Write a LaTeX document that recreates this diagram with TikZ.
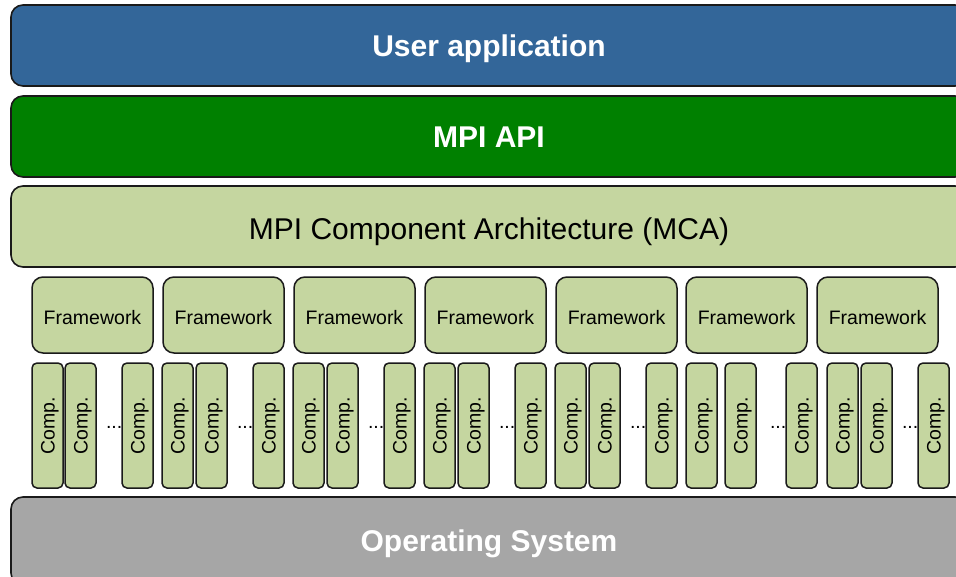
\documentclass[tikz,border=0pt]{standalone}
\usepackage{fontspec}
\setmainfont{Liberation Sans}
\definecolor{appblue}{HTML}{336699}
\definecolor{apigreen}{HTML}{008000}
\definecolor{mcagreen}{HTML}{C5D6A0}
\definecolor{osgray}{HTML}{A6A6A6}
\definecolor{edgeline}{HTML}{1A1A1A}
\begin{document}
\begin{tikzpicture}[x=1pt,y=-1pt,
  layer/.style={draw=edgeline,line width=1.6pt,rounded corners=12pt,
    minimum width=956pt,minimum height=81pt,inner sep=0pt,
    font=\fontsize{30}{36}\selectfont,text height=21.5pt,text depth=0pt},
  boldlayer/.style={layer,text=white,font=\fontsize{30}{36}\selectfont\bfseries},
  fwbox/.style={draw=edgeline,line width=1.5pt,fill=mcagreen,rounded corners=11pt,
    minimum width=121pt,minimum height=76pt,inner sep=0pt,
    font=\fontsize{19.5}{23}\selectfont,text height=18.6pt,text depth=0pt},
  compbox/.style={draw=edgeline,line width=1.5pt,fill=mcagreen,rounded corners=5pt,
    rotate=90,minimum width=125pt,minimum height=31pt,inner sep=0pt,
    font=\fontsize{19.5}{23}\selectfont,text height=14pt,text depth=0pt},
  dotstext/.style={inner sep=0pt,font=\fontsize{19.5}{23}\selectfont}]
\clip (0,0) rectangle (956,576);

% stacked software layers
\node[boldlayer,fill=appblue] (app) at (489,45.5) {User application};
\node[boldlayer,fill=apigreen] (api) at (489,136.5) {MPI API};
\node[layer,fill=mcagreen,text height=26.5pt] (mca) at (489,226.5) {MPI Component Architecture (MCA)};
\node[boldlayer,fill=osgray,minimum height=88pt] (os) at (489,541) {Operating System};

% frameworks with their components
\foreach \i/\f/\a/\b/\c in {1/32/32/65/122, 2/163/162/196/253, 3/294/293/327/384,
    4/425/424/458/515, 5/556/555/589/646, 6/686/686/725/786, 7/817/827/861/918} {
  \node[fwbox] (fw\i) at (\f+60.5,315) {Framework};
  \node[compbox] (c\i a) at (\a+15.5,425.5) {Comp.};
  \node[compbox] (c\i b) at (\b+15.5,425.5) {Comp.};
  \node[compbox] (c\i c) at (\c+15.5,425.5) {Comp.};
  \node[dotstext,anchor=base east] (dots\i) at (\c+0.5,428) {...};
}
\end{tikzpicture}
\end{document}
